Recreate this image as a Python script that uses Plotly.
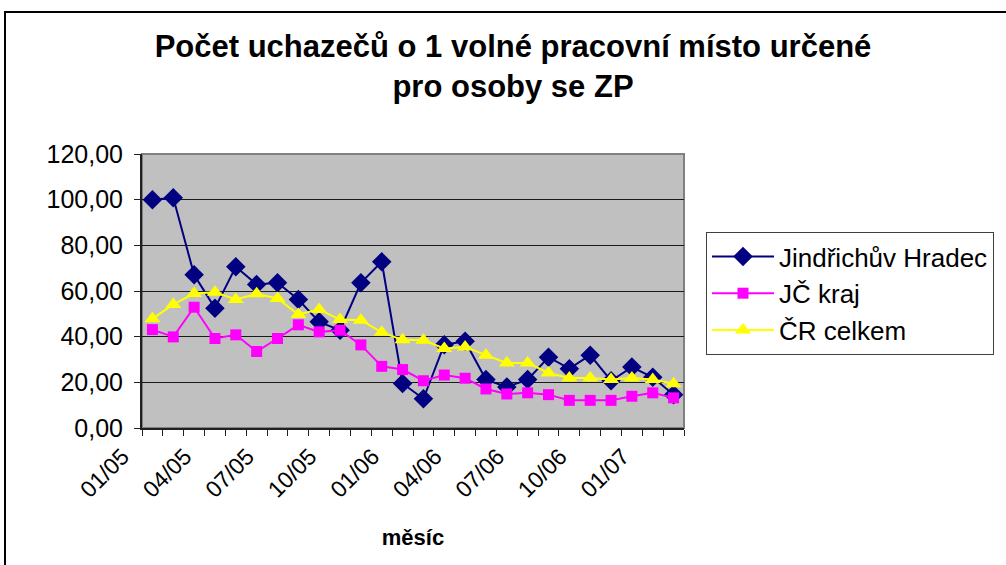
import plotly.graph_objects as go

months = ["01/05", "02/05", "03/05", "04/05", "05/05", "06/05", "07/05", "08/05", "09/05",
          "10/05", "11/05", "12/05", "01/06", "02/06", "03/06", "04/06", "05/06", "06/06",
          "07/06", "08/06", "09/06", "10/06", "11/06", "12/06", "01/07", "02/07"]

jindrichuv_hradec = [100.0, 100.8, 67.1, 52.5, 70.6, 62.9, 63.6, 56.3, 46.5, 42.8, 63.6, 72.8, 19.5,
                     12.8, 36.5, 38.0, 21.2, 18.0, 21.2, 31.0, 26.0, 31.9, 20.7, 26.7, 22.2, 14.6]
jc_kraj = [43.1, 39.9, 52.9, 39.2, 40.8, 33.5, 39.2, 45.2, 42.1, 42.8, 36.4, 27.0, 25.6,
           20.7, 23.2, 21.8, 17.1, 14.9, 15.4, 14.6, 12.1, 12.1, 12.1, 13.9, 15.4, 13.2]
cr_celkem = [47.8, 54.1, 58.9, 59.5, 56.3, 58.8, 56.7, 49.7, 51.9, 47.5, 47.2, 41.9, 38.6,
             38.4, 34.8, 35.5, 31.9, 28.5, 28.5, 24.1, 21.9, 21.9, 21.2, 21.9, 21.2, 19.4]

series_names = ["Jindřichův Hradec", "JČ kraj", "ČR celkem"]
y_ticks = [0, 20, 40, 60, 80, 100, 120]

W, H = 1006, 565
L, R, T, B = 142, 684, 154, 428

x = list(range(len(months)))
label_idx = list(range(0, len(months), 3))

fig = go.Figure()
styles = [
    (jindrichuv_hradec, "#000080", "diamond", 15),
    (jc_kraj, "#FF00FF", "square", 11),
    (cr_celkem, "#FFFF00", "triangle-up", 14),
]
for i, (vals, col, sym, size) in enumerate(styles):
    fig.add_trace(go.Scatter(
        x=x, y=vals, name=series_names[i], mode="lines+markers",
        line=dict(color=col, width=2),
        marker=dict(color=col, symbol=sym, size=size, line=dict(width=0)),
        legendgroup=str(i),
    ))

def px_x(p):
    return (p - L) / (R - L)

def px_y(p):
    return (B - p) / (B - T)

fig.update_layout(
    width=W, height=H,
    margin=dict(l=L, r=W - R, t=T, b=H - B, autoexpand=False),
    paper_bgcolor="white",
    plot_bgcolor="#C0C0C0",
    font=dict(family="Liberation Sans, Arial, sans-serif", color="black", size=20),
    title=dict(
        text="<b>Počet uchazečů o 1 volné pracovní místo určené<br>pro osoby se ZP</b>",
        x=513 / W, xanchor="center",
        y=1 - 57 / H, yanchor="top",
        font=dict(size=31, family="Liberation Sans, Arial, sans-serif"),
    ),
    showlegend=True,
    legend=dict(
        x=px_x(706), y=px_y(232), xanchor="left", yanchor="top",
        bgcolor="white", bordercolor="#404040", borderwidth=1,
        font=dict(size=26),
        tracegroupgap=0, itemwidth=62,
        traceorder="grouped",
    ),
    xaxis=dict(
        range=[-0.5, len(months) - 0.5],
        tickmode="array", tickvals=label_idx, ticktext=[months[i] for i in label_idx],
        tickangle=-45, ticks="", showgrid=False, zeroline=False,
        showline=True, linecolor="#202020", linewidth=2,
        tickfont=dict(size=23),
        ticklabelshift=-30,
        ticklabelstandoff=4,
        minor=dict(tickmode="linear", tick0=-0.5, dtick=1, ticks="outside",
                   ticklen=6, tickcolor="#202020", tickwidth=1, showgrid=False),
        title=dict(text="<b>měsíc</b>", font=dict(size=22), standoff=28),
    ),
    yaxis=dict(
        range=[0, 120], tickmode="array", tickvals=y_ticks,
        ticktext=[f"{v:.2f}".replace(".", ",") for v in y_ticks],
        ticks="outside", ticklen=6, tickcolor="#202020",
        showgrid=True, gridcolor="#1a1a1a", gridwidth=1,
        zeroline=False, showline=True, linecolor="#202020", linewidth=2,
        tickfont=dict(size=25),
        ticklabelstandoff=6,
    ),
)

# plot area frame (top/right gray)
fig.add_shape(type="rect", xref="paper", yref="paper", x0=0, x1=1, y0=0, y1=1,
              line=dict(color="#808080", width=2), layer="below")
# chart outer frame
fig.add_shape(type="rect", xref="paper", yref="paper",
              x0=px_x(5), x1=px_x(1012), y0=px_y(572), y1=px_y(12),
              line=dict(color="black", width=2))

fig.write_html("out.html", config={"displayModeBar": False},
               post_script="document.body.style.margin='0';")
